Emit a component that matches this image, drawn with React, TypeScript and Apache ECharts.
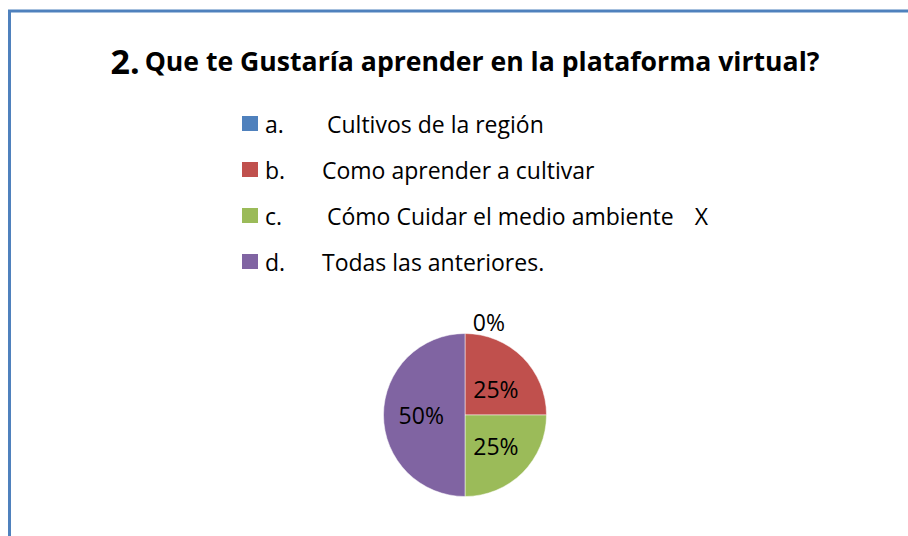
import React, { useEffect, useRef } from "react";
import * as echarts from "echarts";

const letters = ["a.", "b.", "c.", "d."];
const options = [
  "Cultivos de la región",
  "Como aprender a cultivar",
  "Cómo Cuidar el medio ambiente",
  "Todas las anteriores.",
];
const marked = [false, false, true, false];
const values = [0, 25, 25, 50];
const colors = ["#4f81bd", "#c0504d", "#9bbb59", "#8064a2"];
const titleNumber = "2.";
const titleText = "Que te Gustaría aprender en la plataforma virtual?";

const FONT = "Open Sans";
const LF = 23;

export default function App() {
  const ref = useRef<HTMLDivElement>(null);
  useEffect(() => {
    if (!ref.current) return;
    const chart = echarts.init(ref.current, null, { renderer: "svg" });
    const data = values.map((v, i) => {
      const item: any = { name: letters[i], value: v, itemStyle: { color: colors[i] } };
      if (v === 0) {
        item.label = { position: "outside" };
        item.labelLine = { show: false, length: 12, length2: 3 };
      }
      return item;
    });
    const tok = { fontFamily: FONT, fontSize: LF, lineHeight: 22, color: "#000" };
    chart.setOption({
      animation: false,
      backgroundColor: "#ffffff",
      title: {
        text: `{n|${titleNumber}} {q|${titleText}}`,
        left: 460,
        textAlign: "center",
        top: 39,
        textStyle: {
          rich: {
            n: { fontFamily: FONT, fontWeight: "bold", fontSize: 34, color: "#000" },
            q: { fontFamily: FONT, fontWeight: "bold", fontSize: 26.6, color: "#000" },
          },
        },
      },
      legend: {
        orient: "vertical",
        left: 240,
        top: 112,
        padding: 0,
        itemWidth: 18,
        itemHeight: 17,
        itemGap: 23,
        icon: "rect",
        selectedMode: false,
        data: letters,
        formatter: (name: string) => {
          const i = letters.indexOf(name);
          const t = i === 0 || i === 2 ? "t2" : "t";
          return `{l|${letters[i]}}{${t}|${options[i]}}` + (marked[i] ? "{x|X}" : "");
        },
        textStyle: {
          ...tok,
          rich: {
            l: { ...tok, width: 57, padding: [0, 0, 0, 1] },
            t: { ...tok },
            t2: { ...tok, padding: [0, 0, 0, 5] },
            x: { ...tok, padding: [0, 0, 0, 21] },
          },
        },
      },
      graphic: [
        {
          type: "rect",
          shape: { x: 9.5, y: 11, width: 1000, height: 1000 },
          style: { fill: "none", stroke: "#4f81bd", lineWidth: 3 },
          silent: true,
        },
      ],
      series: [
        {
          type: "pie",
          center: [465, 415],
          radius: 81.5,
          startAngle: 90,
          clockwise: true,
          avoidLabelOverlap: false,
          itemStyle: { borderColor: "#ffffff", borderWidth: 0.5 },
          label: {
            show: true,
            position: "inside",
            formatter: "{d}%",
            fontFamily: FONT,
            fontSize: 23,
            color: "#000",
          },
          labelLine: { show: false },
          labelLayout: (p: any) =>
            p.dataIndex === 0 ? { dx: 48 } : p.dataIndex === 1 ? { dy: 5 } : {},
          data,
        },
      ],
    });
    return () => chart.dispose();
  }, []);
  return (
    <div
      ref={ref}
      style={{ position: "absolute", left: 0, top: 0, width: 908, height: 536 }}
    />
  );
}
